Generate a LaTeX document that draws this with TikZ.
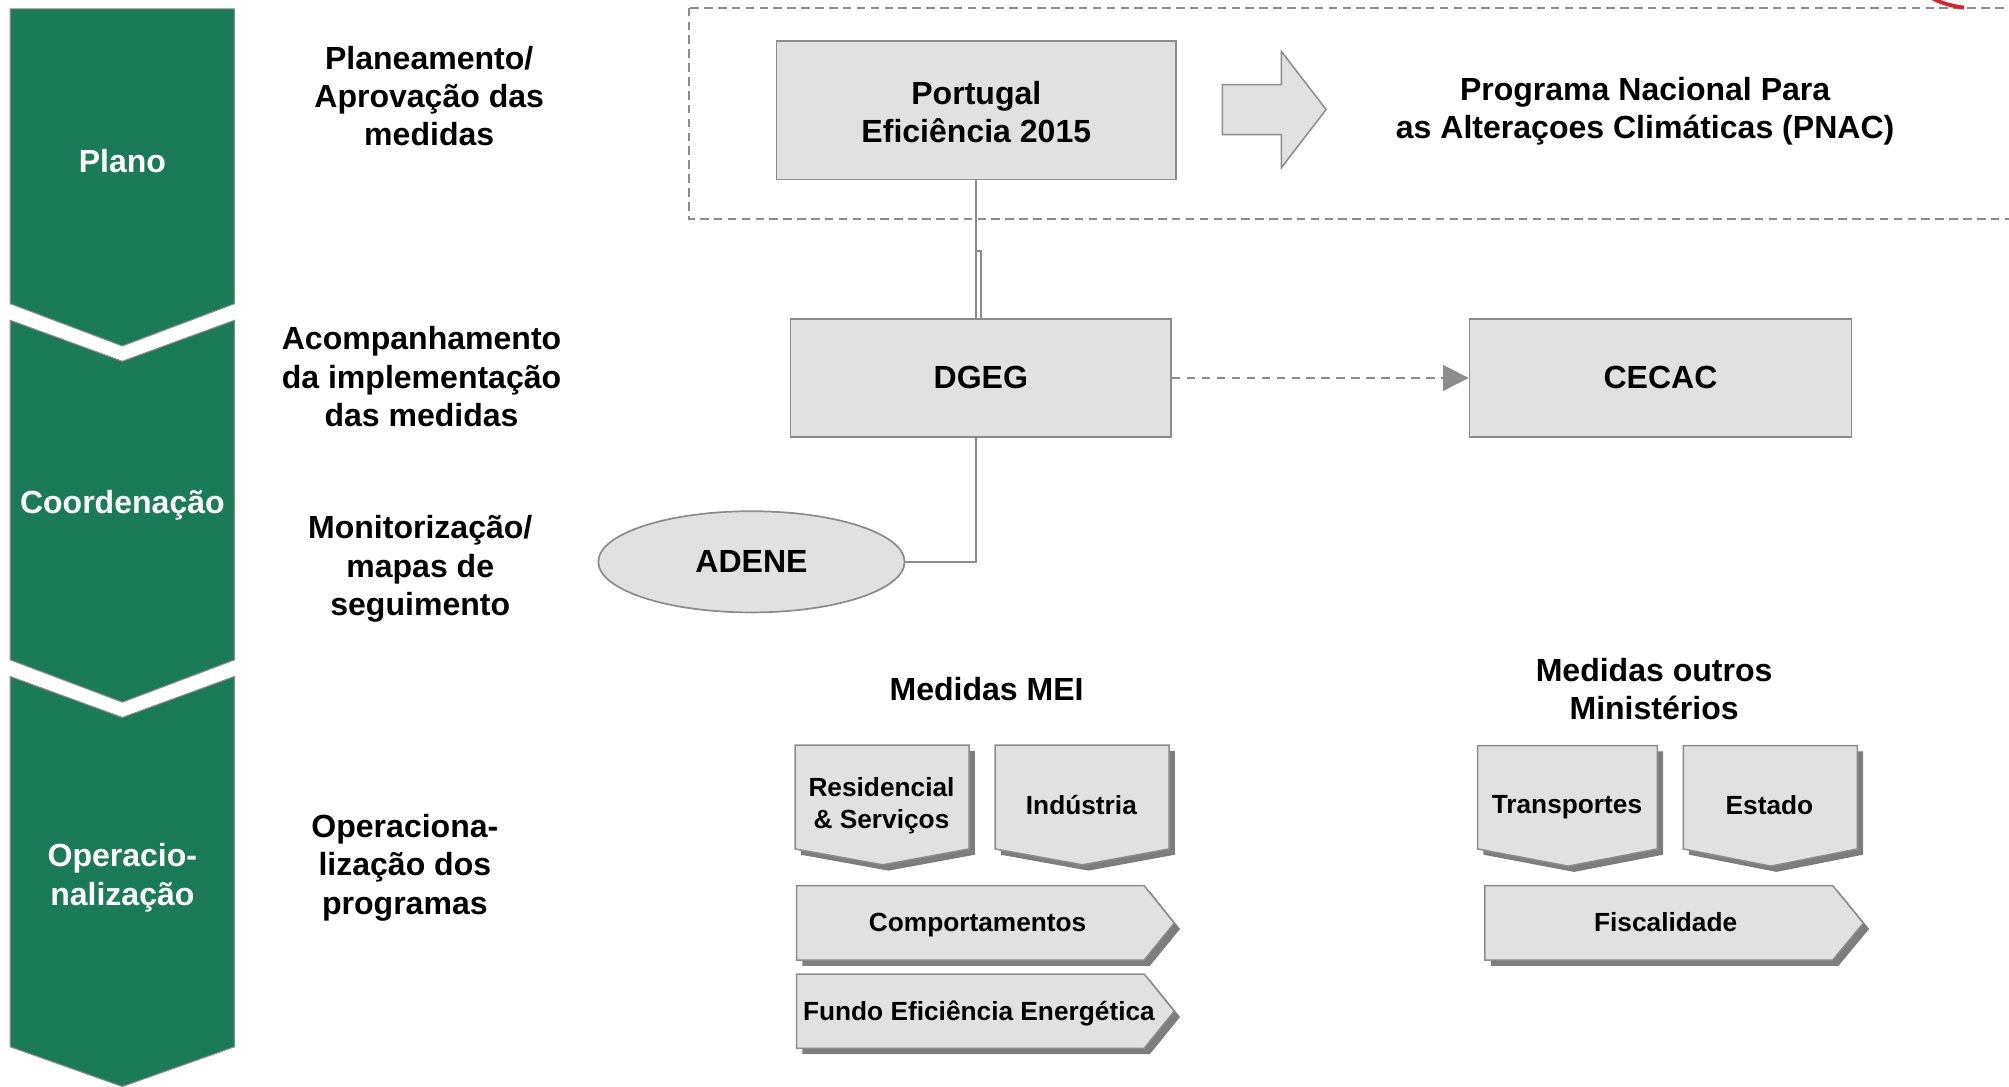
\documentclass[tikz,border=0pt]{standalone}
\usepackage{fontspec}
\setmainfont{Liberation Sans}
\usetikzlibrary{arrows.meta,shapes.geometric}
\definecolor{phasegreen}{RGB}{27,123,88}
\definecolor{boxgrey}{RGB}{225,225,225}
\definecolor{edgegrey}{RGB}{140,140,140}
\definecolor{shadegrey}{RGB}{125,125,125}
\definecolor{markred}{RGB}{215,35,45}
\tikzset{
  phase/.style={fill=phasegreen, draw=edgegrey, line width=0.5pt},
  bigtxt/.style={font=\bfseries\fontsize{15}{18}\selectfont, align=center, inner sep=0pt, yshift=-1.2pt},
  smalltxt/.style={font=\bfseries\fontsize{12.3}{15}\selectfont, align=center, inner sep=0pt, yshift=-1pt},
  greybox/.style={draw=edgegrey, fill=boxgrey, line width=0.8pt, inner sep=0pt},
  tabshape/.style={draw=edgegrey, fill=boxgrey, line width=0.7pt},
  tabshade/.style={fill=shadegrey, shift={(4.5,4.5)}},
  link/.style={draw=edgegrey, line width=0.8pt},
}
\begin{document}
\begin{tikzpicture}[x=0.6pt,y=0.6pt,yscale=-1,xscale=1]
\useasboundingbox (0,0) rectangle (1568,848);

%Shape: phase chevrons
\draw[phase] (8,7) -- (183,7) -- (183,237) -- (95.5,270) -- (8,237) -- cycle ;
\draw[phase] (8,250) -- (95.5,282) -- (183,250) -- (183,515) -- (95.5,548) -- (8,515) -- cycle ;
\draw[phase] (8,528) -- (95.5,560) -- (183,528) -- (183,817) -- (95.5,848) -- (8,817) -- cycle ;

% Text Node
\node[bigtxt, text=white] (plano) at (95.5,124) {Plano};
% Text Node
\node[bigtxt, text=white] (coord) at (95.5,392) {Coordenação};
% Text Node
\node[bigtxt, text=white] (operac) at (95.5,683) {Operacio-\\nalização};

% Text Node
\node[bigtxt] (planeam) at (335,73) {Planeamento/\\Aprovação das\\medidas};
% Text Node
\node[bigtxt] (acomp) at (329,292) {Acompanhamento\\da implementação\\das medidas};
% Text Node
\node[bigtxt] (monit) at (328,442) {Monitorização/\\mapas de\\seguimento};
% Text Node
\node[bigtxt] (progs) at (316,675) {Operaciona-\\lização dos\\programas};

%Shape: dashed frame
\draw[edgegrey, line width=0.8pt, dash pattern=on 4pt off 2.5pt] (538,6) rectangle (1590,171) ;
%Shape: red mark
\draw[markred, line width=1.8pt] (1507,-2) .. controls (1514,2) and (1522,4.5) .. (1533,6) ;

%Shape: boxes
\node[greybox, minimum width=187.2pt, minimum height=64.8pt, bigtxt, yshift=1.2pt] (pe) at (762,86) {};
\node[bigtxt, font=\bfseries\fontsize{15}{17.4}\selectfont] (petext) at (762,85.5) {Portugal\\Eficiência 2015};
\node[greybox, minimum width=178.2pt, minimum height=55.2pt, bigtxt, yshift=1.2pt] (dgeg) at (765.5,295) {\raisebox{-1.2pt}{DGEG}};
\node[greybox, minimum width=178.8pt, minimum height=55.2pt, bigtxt, yshift=1.2pt] (cecac) at (1296,295) {\raisebox{-1.2pt}{CECAC}};
\node[greybox, ellipse, minimum width=143.4pt, minimum height=47.4pt, bigtxt, yshift=1.2pt] (adene) at (586.5,438.5) {\raisebox{-1.2pt}{ADENE}};

%Shape: block arrow
\draw[tabshape] (954,66) -- (1000,66) -- (1000,40) -- (1035,85.5) -- (1000,131) -- (1000,105) -- (954,105) -- cycle ;
% Text Node
\node[bigtxt] (pnac) at (1284,85) {Programa Nacional Para\\as Alteraçoes Climáticas (PNAC)};

% connectors
\draw[link] (pe.south) -- (pe.south |- dgeg.north) ;
\draw[link] (pe.south) ++(0,55) coordinate (jog) -| (dgeg.north) ;
\draw[link] (pe.south |- dgeg.south) |- (adene.east) ;
\draw[link, dash pattern=on 4pt off 3pt, -{Triangle[length=12pt,width=12pt,fill=edgegrey]}] (dgeg.east) -- (cecac.west) ;

% Text Node
\node[bigtxt] (mei) at (770,536) {Medidas MEI};
% Text Node
\node[bigtxt] (outros) at (1291,536) {Medidas outros\\Ministérios};

%Shape: tabs (shadows)
\fill[tabshade] (620.5,581.5) -- (756.3,581.5) -- (756.3,662.6) -- (689,675) -- (620.5,662.6) -- cycle ;
\fill[tabshade] (776.6,581.5) -- (912.4,581.5) -- (912.4,662.6) -- (845,675) -- (776.6,662.6) -- cycle ;
\fill[tabshade] (1153.3,582) -- (1293.5,582) -- (1293.5,662.6) -- (1224,676) -- (1153.3,662.6) -- cycle ;
\fill[tabshade] (1313.8,582) -- (1449.6,582) -- (1449.6,662.6) -- (1382,676) -- (1313.8,662.6) -- cycle ;
\fill[tabshade] (621.8,691.2) -- (893,691.2) -- (916.5,720.5) -- (893,749.3) -- (621.8,749.3) -- cycle ;
\fill[tabshade] (621.8,760.2) -- (893,760.2) -- (916.5,789.2) -- (893,818.2) -- (621.8,818.2) -- cycle ;
\fill[tabshade] (1159,691.2) -- (1430.4,691.2) -- (1454.3,720.5) -- (1430.4,749.3) -- (1159,749.3) -- cycle ;

%Shape: tabs
\draw[tabshape] (620.5,581.5) -- (756.3,581.5) -- (756.3,662.6) -- (689,675) -- (620.5,662.6) -- cycle ;
\draw[tabshape] (776.6,581.5) -- (912.4,581.5) -- (912.4,662.6) -- (845,675) -- (776.6,662.6) -- cycle ;
\draw[tabshape] (1153.3,582) -- (1293.5,582) -- (1293.5,662.6) -- (1224,676) -- (1153.3,662.6) -- cycle ;
\draw[tabshape] (1313.8,582) -- (1449.6,582) -- (1449.6,662.6) -- (1382,676) -- (1313.8,662.6) -- cycle ;
\draw[tabshape] (621.8,691.2) -- (893,691.2) -- (916.5,720.5) -- (893,749.3) -- (621.8,749.3) -- cycle ;
\draw[tabshape] (621.8,760.2) -- (893,760.2) -- (916.5,789.2) -- (893,818.2) -- (621.8,818.2) -- cycle ;
\draw[tabshape] (1159,691.2) -- (1430.4,691.2) -- (1454.3,720.5) -- (1430.4,749.3) -- (1159,749.3) -- cycle ;

% Text Node
\node[smalltxt] (resid) at (688,627) {Residencial\\\& Serviços};
% Text Node
\node[smalltxt] (indus) at (844,627) {Indústria};
% Text Node
\node[smalltxt, yshift=-1pt] (transp) at (1223,627) {Transportes};
% Text Node
\node[smalltxt] (estado) at (1381,627) {Estado};
% Text Node
\node[smalltxt] (comport) at (763,720) {Comportamentos};
% Text Node
\node[smalltxt] (fundo) at (764,789) {Fundo Eficiência Energética};
% Text Node
\node[smalltxt, yshift=1pt] (fiscal) at (1300,720) {Fiscalidade};
\end{tikzpicture}
\end{document}
